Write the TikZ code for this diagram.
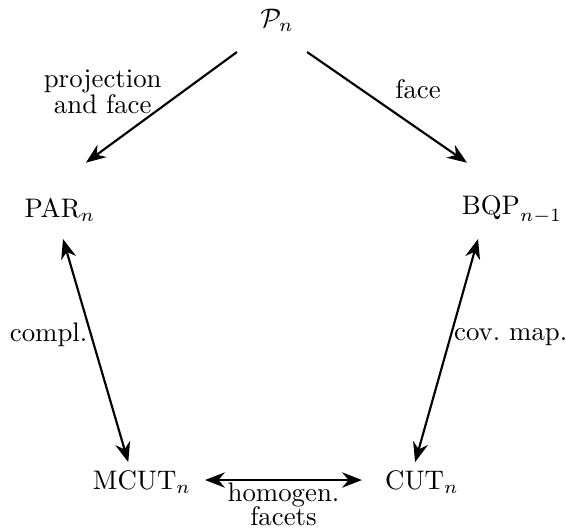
\documentclass[tikz,border=0pt]{standalone}
\usepackage{amssymb}
\usepackage{amsmath}
\usepackage{tikz}
\usetikzlibrary{arrows.meta, positioning}

\begin{document}
\begin{tikzpicture}[
    arr/.style={thick,-{Stealth[length=2.6mm,width=2mm]}},
    darr/.style={thick,{Stealth[length=2.6mm,width=2mm]}-{Stealth[length=2.6mm,width=2mm]}},
    lbl/.style={align=center, inner sep=1pt}
  ]
    \useasboundingbox (0,0) rectangle (7.418,6.907);

    % the five polytopes
    \node (p)    at (3.630,6.645) {$\mathcal{P}_n$};
    \node (par)  at (0.786,4.155) {$\mathrm{PAR}_n$};
    \node (bqp)  at (6.710,4.155) {$\mathrm{BQP}_{n-1}$};
    \node (mcut) at (1.861,0.590) {$\mathrm{MCUT}_n$};
    \node (cut)  at (5.530,0.590) {$\mathrm{CUT}_n$};

    % maps between them
    \draw[arr] ([shift={(-0.525,-0.42)}]p.center) -- ([shift={(0.34,0.62)}]par.center)
        node[pos=0.36, left=2.6mm, lbl, inner sep=0pt] {projection\\[-2pt]and face};
    \draw[arr] ([shift={(0.395,-0.42)}]p.center) -- ([shift={(-0.59,0.62)}]bqp.center)
        node[pos=0.34, right=4.3mm, lbl, inner sep=0pt] {face};
    \draw[darr] ([shift={(0.04,-0.38)}]par.center) -- ([shift={(-0.18,0.26)}]mcut.center)
        node[pos=0.43, left, lbl] {compl.};
    \draw[darr] ([shift={(-0.445,-0.38)}]bqp.center) -- ([shift={(-0.09,0.26)}]cut.center)
        node[pos=0.44, right, lbl] {cov.\ map.};
    \draw[darr] ([shift={(0.826,0.026)}]mcut.center) -- ([shift={(-0.786,0.026)}]cut.center)
        node[midway, below, lbl, inner sep=0.5pt] {homogen.\\[-3pt]facets};
\end{tikzpicture}
\end{document}
